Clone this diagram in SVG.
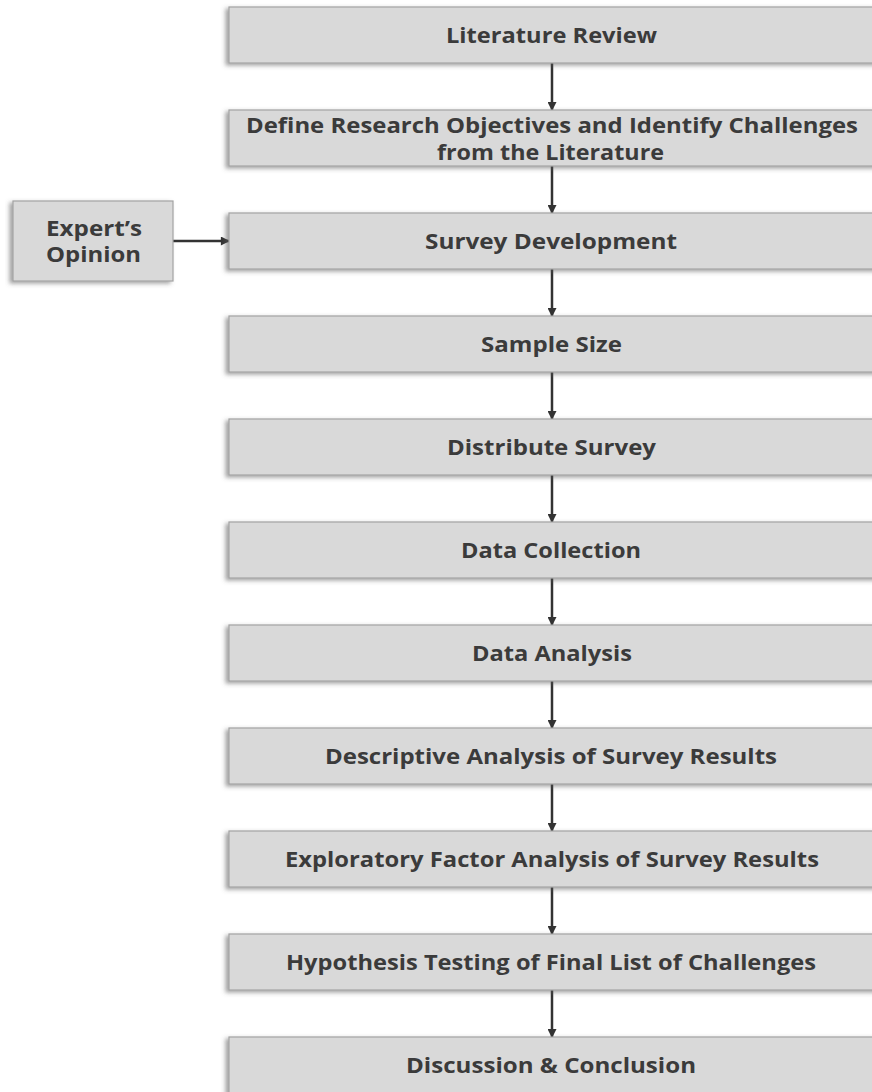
<svg xmlns="http://www.w3.org/2000/svg" width="872" height="1092" viewBox="0 0 872 1092">
<style>
.box{fill:#d9d9d9;stroke:#a3a3a3;stroke-width:1.2;filter:url(#sh)}
.lbl{font-family:"Open Sans","Liberation Sans",sans-serif;font-weight:700;font-size:21px;fill:#3b3b3b;text-anchor:middle}
.con{stroke:#333333;stroke-width:2.5;fill:none;marker-end:url(#ah)}
</style>
<defs>
<filter id="sh" x="-5%" y="-20%" width="110%" height="140%">
<feDropShadow dx="-3" dy="2" stdDeviation="2" flood-color="#555555" flood-opacity="0.55"/>
</filter>
<marker id="ah" markerUnits="userSpaceOnUse" markerWidth="11" markerHeight="9" refX="9" refY="5" orient="auto" viewBox="0 0 10 10">
<path d="M0,0 L10,5 L0,10 Z" fill="#333333"/>
</marker>
</defs>
<rect width="872" height="1092" fill="#ffffff"/>
<g id="connectors">
<line class="con" x1="552" y1="63" x2="552" y2="110"/>
<line class="con" x1="552" y1="166" x2="552" y2="213"/>
<line class="con" x1="552" y1="269" x2="552" y2="316"/>
<line class="con" x1="552" y1="372" x2="552" y2="419"/>
<line class="con" x1="552" y1="475" x2="552" y2="522"/>
<line class="con" x1="552" y1="578" x2="552" y2="625"/>
<line class="con" x1="552" y1="681" x2="552" y2="728"/>
<line class="con" x1="552" y1="784" x2="552" y2="831"/>
<line class="con" x1="552" y1="887" x2="552" y2="934"/>
<line class="con" x1="552" y1="990" x2="552" y2="1037"/>
<line class="con" x1="173" y1="241" x2="229" y2="241"/>
</g>
<g id="n1"><rect class="box" x="229" y="7" width="650" height="56"/><text class="lbl" x="551.5" y="43" textLength="211" lengthAdjust="spacingAndGlyphs">Literature Review</text></g>
<g id="n2"><rect class="box" x="229" y="110" width="650" height="56"/><text class="lbl" x="552" y="133" textLength="612" lengthAdjust="spacingAndGlyphs">Define Research Objectives and Identify Challenges</text><text class="lbl" x="550.5" y="160" textLength="227" lengthAdjust="spacingAndGlyphs">from the Literature</text></g>
<g id="n3"><rect class="box" x="229" y="213" width="650" height="56"/><text class="lbl" x="551" y="249" textLength="252" lengthAdjust="spacingAndGlyphs">Survey Development</text></g>
<g id="n4"><rect class="box" x="229" y="316" width="650" height="56"/><text class="lbl" x="551.5" y="352" textLength="141" lengthAdjust="spacingAndGlyphs">Sample Size</text></g>
<g id="n5"><rect class="box" x="229" y="419" width="650" height="56"/><text class="lbl" x="551.5" y="455" textLength="209" lengthAdjust="spacingAndGlyphs">Distribute Survey</text></g>
<g id="n6"><rect class="box" x="229" y="522" width="650" height="56"/><text class="lbl" x="551" y="558" textLength="180" lengthAdjust="spacingAndGlyphs">Data Collection</text></g>
<g id="n7"><rect class="box" x="229" y="625" width="650" height="56"/><text class="lbl" x="552" y="661" textLength="160" lengthAdjust="spacingAndGlyphs">Data Analysis</text></g>
<g id="n8"><rect class="box" x="229" y="728" width="650" height="56"/><text class="lbl" x="551" y="764" textLength="452" lengthAdjust="spacingAndGlyphs">Descriptive Analysis of Survey Results</text></g>
<g id="n9"><rect class="box" x="229" y="831" width="650" height="56"/><text class="lbl" x="552" y="867" textLength="534" lengthAdjust="spacingAndGlyphs">Exploratory Factor Analysis of Survey Results</text></g>
<g id="n10"><rect class="box" x="229" y="934" width="650" height="56"/><text class="lbl" x="551" y="970" textLength="530" lengthAdjust="spacingAndGlyphs">Hypothesis Testing of Final List of Challenges</text></g>
<g id="n11"><rect class="box" x="229" y="1037" width="650" height="60"/><text class="lbl" x="551" y="1073" textLength="290" lengthAdjust="spacingAndGlyphs">Discussion &amp; Conclusion</text></g>
<g id="expert"><rect class="box" x="13" y="201" width="160" height="80"/><text class="lbl" x="94" y="236" textLength="96" lengthAdjust="spacingAndGlyphs">Expert’s</text><text class="lbl" x="93.5" y="262" textLength="95" lengthAdjust="spacingAndGlyphs">Opinion</text></g>
</svg>
